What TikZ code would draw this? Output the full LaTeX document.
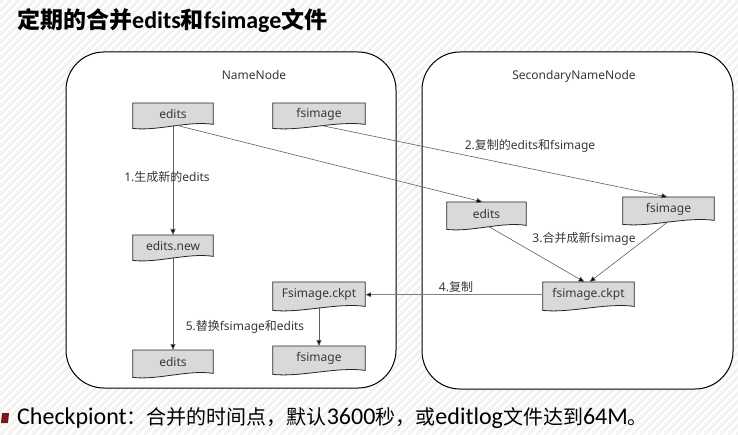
\documentclass[tikz,border=0pt]{standalone}
\usepackage{fontspec}
\setmainfont{Noto Sans}
\newfontfamily\zhf{Noto Sans CJK SC}
\newfontfamily\carl{Carlito}
\usetikzlibrary{arrows.meta,backgrounds,calc}
\definecolor{docfill}{HTML}{D9D9D9}
\definecolor{lbl}{HTML}{383838}
\definecolor{conncol}{HTML}{606060}
\definecolor{bulletred}{HTML}{7F1414}
\definecolor{stripe}{HTML}{F1F1F1}
\newcommand{\zh}[1]{{\zhf #1}}
\begin{document}
\begin{tikzpicture}[x=1pt,y=-1pt,
  doc/.style={minimum width=#1, inner sep=0pt, anchor=north,
    font=\fontsize{12}{14}\selectfont, text=lbl},
  docline/.style={draw=black!85, line width=0.8pt, fill=docfill},
  conn/.style={draw=conncol, line width=0.6pt, -{Triangle[length=6pt,width=5pt,fill=black]}},
  lab/.style={font=\fontsize{12}{14}\selectfont, text=lbl, inner sep=0pt},
  frame/.style={draw=black, line width=1pt, fill=white, rounded corners=38pt}]
\useasboundingbox (0,0) rectangle (738,435);
% nodes
\node[doc=80pt, minimum height=22pt] (e1) at (173,103) {edits};
\node[doc=92pt, minimum height=22pt] (f1) at (319,103) {fsimage};
\node[doc=80pt, minimum height=22pt] (en) at (173,235) {edits.new};
\node[doc=80pt, minimum height=24pt] (e3) at (173,350) {edits};
\node[doc=92pt, minimum height=25pt] (fc) at (319,282) {Fsimage.ckpt};
\node[doc=92pt, minimum height=25pt] (f3) at (319,346) {fsimage};
\node[doc=79pt, minimum height=24pt] (e2) at (486.5,202) {edits};
\node[doc=91pt, minimum height=24pt] (f2) at (668.5,197) {fsimage};
\node[doc=91pt, minimum height=25pt] (sc) at (588.5,282) {fsimage.ckpt};
% frame titles
\node[lab] (nn) at (254,75) {NameNode};
\node[lab] (snn) at (574,76) {SecondaryNameNode};
% connectors
\draw[conn] (e1.south) -- (en.north);
\draw[conn] (en.south) -- (e3.north);
\draw[conn] ([xshift=4pt]e1.south) -- ([xshift=-4pt]e2.north);
\draw[conn] ([xshift=2pt]f1.south) -- ([xshift=-1pt]f2.north);
\draw[conn] ([xshift=2pt]e2.south) -- ([xshift=-4pt]sc.north);
\draw[conn] (f2.south) -- ([xshift=1pt]sc.north);
\draw[conn, draw=black!50] (sc.west) -- (fc.east);
\draw[conn] (fc.south) -- (f3.north);
% labels
\node[lab] (l1) at (167,177) {1.\zh{生成新的}edits};
\node[lab] (l2) at (530,146) {2.\zh{复制的}edits\zh{和}fsimage};
\node[lab] (l3) at (584,239) {3.\zh{合并成新}fsimage};
\node[lab] (l4) at (456,287) {4.\zh{复制}};
\node[lab] (l5) at (245,327) {5.\zh{替换}fsimage\zh{和}edits};
% title and note
\node[anchor=west, inner sep=0pt] (title) at (17,21)
  {{\zhf\bfseries\fontsize{23}{26}\selectfont 定期的合并}{\carl\bfseries\fontsize{24}{26}\selectfont edits}{\zhf\bfseries\fontsize{23}{26}\selectfont 和}{\carl\bfseries\fontsize{24}{26}\selectfont fsimage}{\zhf\bfseries\fontsize{23}{26}\selectfont 文件}};
\node[anchor=west, inner sep=0pt] (note) at (17,418)
  {{\carl\fontsize{24}{26}\selectfont Checkpiont}{\zhf\fontsize{20}{24}\selectfont ：合并的时间点，默认}{\carl\fontsize{24}{26}\selectfont 3600}{\zhf\fontsize{20}{24}\selectfont 秒，或}{\carl\fontsize{24}{26}\selectfont editlog}{\zhf\fontsize{20}{24}\selectfont 文件达到}{\carl\fontsize{24}{26}\selectfont 64M}{\zhf\fontsize{20}{24}\selectfont 。}};
\begin{scope}[on background layer]
  \begin{scope}
    \clip (0,0) rectangle (738,435);
    \foreach \c in {-440,-432,...,740} {
      \draw[stripe, line width=2.5pt] (\c,435) -- ++(435,-435);
    }
  \end{scope}
  \draw[frame] (66,52) rectangle (396,388);
  \draw[frame] (422,52) rectangle (733,389);
  \foreach \n in {e1,f1,en,e3,fc,f3,e2,f2,sc} {
    \draw[docline] (\n.north west) -- (\n.north east) -- ($(\n.south east)+(0,-1)$)
      .. controls ($(\n.south east)!0.3!(\n.south west)+(0,-5)$) and ($(\n.south east)!0.7!(\n.south west)+(0,6)$) ..
      ($(\n.south west)+(0,3)$) -- cycle;
  }
  \fill[bulletred] (2,413) -- (9,413) -- (8,423) -- (1,423) -- cycle;
\end{scope}
\end{tikzpicture}
\end{document}
